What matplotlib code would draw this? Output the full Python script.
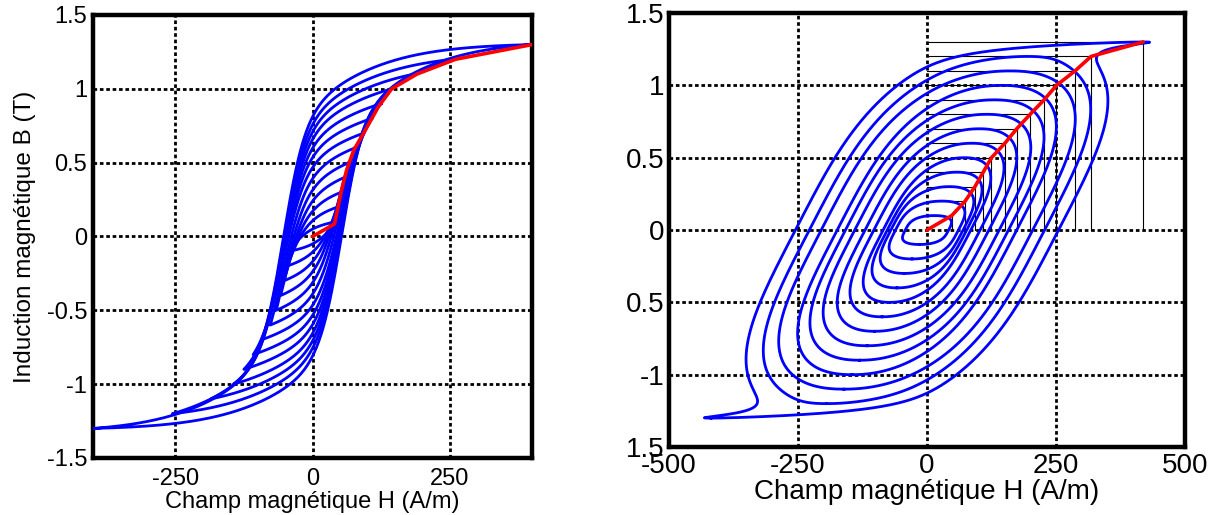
import numpy as np
import matplotlib
matplotlib.use("Agg")
import matplotlib.pyplot as plt

plt.rcParams['font.family'] = ['Liberation Sans', 'DejaVu Sans']

# ---------------- data ----------------
# Left panel: symmetric minor loops, tips (H, B)
left_tip_H = [42, 46, 52, 58, 66, 77, 93, 108, 125, 144, 185, 255, 400]
left_tip_B = [0.1, 0.2, 0.3, 0.4, 0.5, 0.6, 0.7, 0.8, 0.9, 1.0, 1.1, 1.2, 1.3]
left_Hc = 53                       # coercive field of the loops (A/m)
left_red_H = [0, 40, 52, 62, 75, 96, 120, 144, 190, 260, 400]
left_red_B = [0, 0.085, 0.3, 0.45, 0.585, 0.72, 0.88, 1.0, 1.1, 1.2, 1.3]

# Right panel: dynamic loops, tips (H, B) and half width of each loop at B = 0
right_tip_H = [48, 74, 93, 109, 125, 151, 174, 200, 227, 251, 287, 318, 419]
right_tip_B = [0.1, 0.2, 0.3, 0.4, 0.5, 0.6, 0.7, 0.8, 0.9, 1.0, 1.1, 1.2, 1.3]
right_cross_H = [42, 61, 70, 77, 85, 103, 120, 140, 158, 174, 205, 228, 255]
right_red_H = [0] + right_tip_H
right_red_B = [0] + right_tip_B

x_label = "Champ magnétique H (A/m)"
y_label = "Induction magnétique B (T)"
left_xticks = [-250, 0, 250]
left_xticklabels = ["-250", "0", "250"]
left_yticks = [-1.5, -1, -0.5, 0, 0.5, 1, 1.5]
left_yticklabels = ["-1.5", "-1", "-0.5", "0", "0.5", "1", "1.5"]
right_xticks = [-500, -250, 0, 250, 500]
right_xticklabels = ["-500", "-250", "0", "250", "500"]
right_yticks = [-1.5, -1, -0.5, 0, 0.5, 1, 1.5]
right_yticklabels = ["1.5", "-1", "0.5", "0", "0.5", "1", "1.5"]

BLUE = (0, 0, 1)
RED = (1, 0, 0)


def sat_left(x):
    return 0.78 * np.tanh(x / 40.0) + 0.55 * np.tanh(x / 190.0)


def loop_left(Hm, Bm, W, F, n=400):
    H = np.linspace(-Hm, Hm, n)
    a, b = F(Hm + W), F(W - Hm)
    s = 2 * Bm / (a - b)
    c = Bm - s * a
    Bd = s * F(H + W) + c
    x = np.concatenate([H[::-1], -H[::-1]])
    y = np.concatenate([Bd[::-1], -Bd[::-1]])
    return x, y


def centre_right(B):
    return 145.0 * B + 230.0 * np.sign(B) * (np.abs(B) / 1.3) ** 30


def loop_right(Bm, K, n=800, p=3.5, r=2.2):
    b = np.sin(np.linspace(-np.pi / 2, np.pi / 2, n))
    B = b * Bm
    w = (1 - np.abs(b) ** p) ** (1 / r)
    Hc_ = centre_right(B)
    x = np.concatenate([Hc_ + K * w, (Hc_ - K * w)[::-1]])
    y = np.concatenate([B, B[::-1]])
    return x, y


fig = plt.figure(figsize=(12.1, 5.15), dpi=100)
axL = fig.add_axes([0.0766, 0.1107, 0.3634, 0.8602])
axR = fig.add_axes([0.5529, 0.1320, 0.4264, 0.8427])

grid_kw = dict(color='k', linestyle=(0, (1.3, 1.0)), linewidth=2.0)

# ---- left ----
for Hm, Bm in zip(left_tip_H, left_tip_B):
    x, y = loop_left(Hm, Bm, left_Hc, sat_left)
    axL.plot(x, y, color=BLUE, lw=2.0, zorder=3)
axL.plot(left_red_H, left_red_B, color=RED, lw=2.6, zorder=4, solid_capstyle='round')
axL.set_xlim(-400, 400)
axL.set_ylim(-1.5, 1.5)
axL.set_xticks(left_xticks)
axL.set_xticklabels(left_xticklabels)
axL.set_yticks(left_yticks)
axL.set_yticklabels(left_yticklabels)
axL.set_xlabel(x_label, fontsize=17, labelpad=1)
axL.set_ylabel(y_label, fontsize=17.5, labelpad=8)

# ---- right ----
for Hm, Bm, K in zip(right_tip_H, right_tip_B, right_cross_H):
    x, y = loop_right(Bm, K)
    axR.plot(x, y, color=BLUE, lw=2.0, zorder=3)
    axR.plot([0, Hm], [Bm, Bm], color='k', lw=0.8, zorder=2)
    axR.plot([Hm, Hm], [0, Bm], color='k', lw=0.8, zorder=2)
axR.plot(right_red_H, right_red_B, color=RED, lw=2.6, zorder=4, solid_capstyle='round')
axR.set_xlim(-500, 500)
axR.set_ylim(-1.5, 1.5)
axR.set_xticks(right_xticks)
axR.set_xticklabels(right_xticklabels)
axR.set_yticks(right_yticks)
axR.set_yticklabels(right_yticklabels)
axR.set_xlabel(x_label, fontsize=20, labelpad=0)

for ax, fs, px, py in ((axL, 17, 7, 4), (axR, 20, 4, 3)):
    ax.grid(True, **grid_kw)
    ax.set_axisbelow(True)
    for sp in ax.spines.values():
        sp.set_linewidth(3.2)
        sp.set_color('k')
    ax.tick_params(direction='in', length=0, labelsize=fs)
    ax.tick_params(axis='x', pad=px)
    ax.tick_params(axis='y', pad=py)

fig.savefig("out.png", dpi=100)
